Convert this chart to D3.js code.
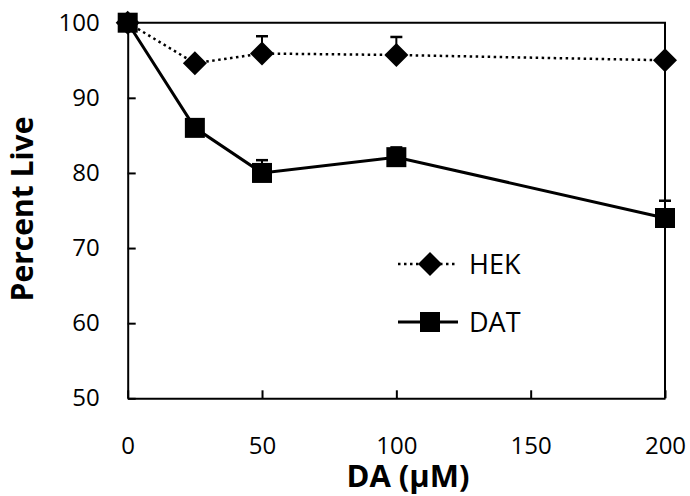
<!DOCTYPE html>
<html>
<head>
<meta charset="utf-8">
<script src="https://cdn.jsdelivr.net/npm/d3@7"></script>
<style>
  body { margin: 0; background: #fff; }
  svg text { font-family: "Open Sans", Lato, sans-serif; fill: #000; }
</style>
</head>
<body>
<div id="viz"></div>
<script>
// concentrations (uM)
var doses = [0, 25, 50, 100, 200];
var hekValues = [100, 94.6, 95.9, 95.7, 95.0];
var hekErr = [0, 0, 2.3, 2.4, 0];
var datValues = [100, 86.0, 80.0, 82.1, 74.0];
var datErr = [0, 0, 1.7, 1.3, 2.3];
var xTicks = [0, 50, 100, 150, 200];
var yTicks = [50, 60, 70, 80, 90, 100];
var seriesNames = ["HEK", "DAT"];

var W = 690, H = 496;
var margin = {top: 22.7, right: 25, bottom: 97.7, left: 127.7};
var w = W - margin.left - margin.right,
    h = H - margin.top - margin.bottom;

var svg = d3.select("#viz").append("svg")
  .attr("width", W)
  .attr("height", H);

var g = svg.append("g")
  .attr("transform", "translate(" + margin.left + "," + margin.top + ")");

var x = d3.scaleLinear().domain([0, 200]).range([0, w]);
var y = d3.scaleLinear().domain([50, 100]).range([h, 0]);

// frame (top + right)
g.append("path")
  .attr("d", "M0,0H" + w + "V" + h)
  .attr("fill", "none")
  .attr("stroke", "#000")
  .attr("stroke-width", 2);

var xAxis = g.append("g")
  .attr("transform", "translate(0," + h + ")")
  .call(d3.axisBottom(x).tickValues(xTicks).tickSize(-8).tickSizeOuter(0).tickPadding(39));
var yAxis = g.append("g")
  .call(d3.axisLeft(y).tickValues(yTicks).tickSize(-8).tickSizeOuter(0).tickPadding(28));

[xAxis, yAxis].forEach(function(a) {
  a.select(".domain").attr("stroke", "#000").attr("stroke-width", 2);
  a.selectAll(".tick line").attr("stroke", "#000").attr("stroke-width", 2);
  a.selectAll(".tick text").attr("font-size", 24).attr("font-family", "'Open Sans', sans-serif");
});

// axis titles
svg.append("text")
  .attr("x", 408).attr("y", 487)
  .attr("text-anchor", "middle")
  .attr("font-size", 31)
  .attr("font-weight", "bold")
  .text("DA (\u00b5M)");

svg.append("text")
  .attr("transform", "translate(33,209) rotate(-90)")
  .attr("text-anchor", "middle")
  .attr("font-size", 30)
  .attr("font-weight", "bold")
  .text("Percent Live");

var hek = doses.map(function(d, i) { return {x: d, y: hekValues[i], e: hekErr[i]}; });
var dat = doses.map(function(d, i) { return {x: d, y: datValues[i], e: datErr[i]}; });

var line = d3.line().x(function(d) { return x(d.x); }).y(function(d) { return y(d.y); });

// error bars (upper only)
function errorBars(data) {
  var eb = g.append("g").selectAll("g")
    .data(data.filter(function(d) { return d.e > 0; }))
    .enter().append("g");
  eb.append("line")
    .attr("x1", function(d) { return x(d.x); })
    .attr("x2", function(d) { return x(d.x); })
    .attr("y1", function(d) { return y(d.y); })
    .attr("y2", function(d) { return y(d.y + d.e); })
    .attr("stroke", "#000").attr("stroke-width", 2);
  eb.append("line")
    .attr("x1", function(d) { return x(d.x) - 6; })
    .attr("x2", function(d) { return x(d.x) + 6; })
    .attr("y1", function(d) { return y(d.y + d.e); })
    .attr("y2", function(d) { return y(d.y + d.e); })
    .attr("stroke", "#000").attr("stroke-width", 2.5);
}
errorBars(hek);
errorBars(dat);

g.append("path")
  .datum(hek)
  .attr("d", line)
  .attr("fill", "none")
  .attr("stroke", "#000")
  .attr("stroke-width", 2.5)
  .attr("stroke-dasharray", "2.5,3.5");

g.append("path")
  .datum(dat)
  .attr("d", line)
  .attr("fill", "none")
  .attr("stroke", "#000")
  .attr("stroke-width", 3);

var diamond = "M0,-12L12,0L0,12L-12,0Z";
var square = "M-10,-10H10V10H-10Z";

g.selectAll(".hek").data(hek).enter().append("path")
  .attr("class", "hek")
  .attr("d", diamond)
  .attr("transform", function(d) { return "translate(" + x(d.x) + "," + y(d.y) + ")"; })
  .attr("fill", "#000");

g.selectAll(".dat").data(dat).enter().append("path")
  .attr("class", "dat")
  .attr("d", square)
  .attr("transform", function(d) { return "translate(" + x(d.x) + "," + y(d.y) + ")"; })
  .attr("fill", "#000");

// legend
var legend = svg.append("g");
var legY = [264, 322];
var leg = legend.selectAll("g").data(seriesNames).enter().append("g")
  .attr("transform", function(d, i) { return "translate(0," + legY[i] + ")"; });
leg.append("line")
  .attr("x1", 398).attr("x2", 458)
  .attr("stroke", "#000")
  .attr("stroke-width", function(d, i) { return i == 0 ? 2.5 : 3; })
  .attr("stroke-dasharray", function(d, i) { return i == 0 ? "2.5,3.5" : null; });
leg.append("path")
  .attr("d", function(d, i) { return i == 0 ? diamond : square; })
  .attr("transform", "translate(430,0)")
  .attr("fill", "#000");
leg.append("text")
  .attr("x", 469).attr("dy", "0.36em")
  .attr("font-size", 27)
  .text(function(d) { return d; });
</script>
</body>
</html>
